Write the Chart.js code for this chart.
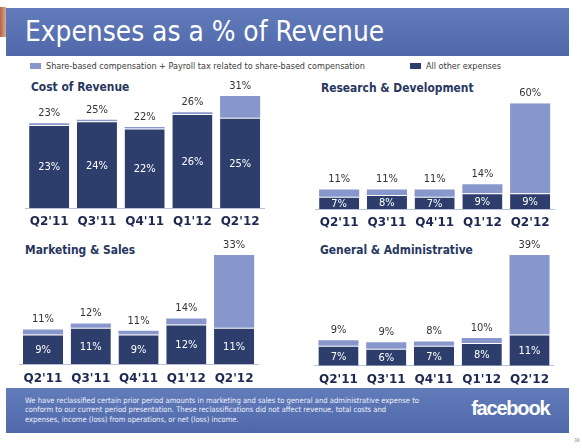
<!DOCTYPE html>
<html>
<head>
<meta charset="utf-8">
<script src="https://cdn.jsdelivr.net/npm/chart.js@4.4.0/dist/chart.umd.min.js"></script>
<style>
  body { margin: 0; background: #fff; font-family: "DejaVu Sans Condensed", "DejaVu Sans", sans-serif; }
  #slide { position: relative; width: 582px; height: 448px; overflow: hidden; background: #fff; }
  .band { position: absolute; background: linear-gradient(180deg, #627bba 0%, #5770b1 60%, #5068aa 100%); }
  #header { left: 6px; top: 8px; width: 563px; height: 48px; }
  #header h1 { margin: 0; position: absolute; left: 19px; top: 7px; color: #fff; font-weight: normal; font-size: 27.8px; white-space: nowrap; }
  #edge { position: absolute; left: 0; top: 7px; width: 6px; height: 30px; background: linear-gradient(90deg, #b0664a, #d9a793); }
  .leg { position: absolute; top: 61px; font-size: 9px; line-height: 10px; color: #3a3a3a; white-space: nowrap; }
  .leg i { display: inline-block; width: 11px; height: 6px; margin-right: 5px; vertical-align: 0px; }
  .ttl { position: absolute; font-weight: bold; font-size: 11.9px; color: #27365e; white-space: nowrap; }
  canvas { position: absolute; }
  #footer { left: 6px; top: 388px; width: 563px; height: 45px; }
  #footer p { margin: 0; position: absolute; left: 19px; top: 8px; color: #eef1f8; font-size: 7.6px; line-height: 9.3px; white-space: nowrap; }
  #logo { position: absolute; right: 18px; top: 9px; color: #fff; font-family: "Liberation Sans", sans-serif; font-weight: bold; font-size: 20px; letter-spacing: -1.2px; }
  #logo span { font-size: 6px; letter-spacing: 0; }
  #pg { position: absolute; left: 574px; top: 437px; font-size: 5px; color: #888; }
</style>
</head>
<body>
<div id="slide">
  <div id="edge"></div>
  <div id="header" class="band"><h1>Expenses as a % of Revenue</h1></div>
  <div class="leg" style="left:30px"><i style="background:#8797cb"></i>Share-based compensation + Payroll tax related to share-based compensation</div>
  <div class="leg" style="left:410px"><i style="background:#2d3d6c"></i>All other expenses</div>

  <div class="ttl" style="left:31px;top:80px">Cost of Revenue</div>
  <div class="ttl" style="left:321px;top:81px">Research &amp; Development</div>
  <div class="ttl" style="left:25px;top:243px">Marketing &amp; Sales</div>
  <div class="ttl" style="left:320px;top:243px">General &amp; Administrative</div>

  <canvas id="c1" style="left:0px;top:76px" width="290" height="156"></canvas>
  <canvas id="c2" style="left:295px;top:76px" width="285" height="156"></canvas>
  <canvas id="c3" style="left:0px;top:235px" width="290" height="153"></canvas>
  <canvas id="c4" style="left:295px;top:235px" width="285" height="153"></canvas>

  <div id="footer" class="band">
    <p>We have reclassified certain prior period amounts in marketing and sales to general and administrative expense to<br>conform to our current period presentation. These reclassifications did not affect revenue, total costs and<br>expenses, income (loss) from operations, or net (loss) income.</p>
    <div id="logo">facebook<span>.</span></div>
  </div>
  <div id="pg">38</div>
</div>

<script>
const quarters = ["Q2'11", "Q3'11", "Q4'11", "Q1'12", "Q2'12"];

// all other expenses (dark) and share-based comp (light), % of revenue
const costOther = [23, 24, 22, 26, 25];
const costSbc = [0.45, 0.45, 0.4, 0.5, 6];
const costTotal = [23, 25, 22, 26, 31];

const rdOther = [7, 8, 7, 9, 9];
const rdSbc = [4, 3, 4, 5, 51];
const rdTotal = [11, 11, 11, 14, 60];

const msOther = [9, 11, 9, 12, 11];
const msSbc = [1.5, 1.3, 1.1, 1.8, 22];
const msTotal = [11, 12, 11, 14, 33];

const gaOther = [7, 6, 7, 8, 11];
const gaSbc = [2, 2.3, 1.5, 1.8, 28];
const gaTotal = [9, 9, 8, 10, 39];

const DARK = "#2d3d6c";
const LIGHT = "#8797cb";
const FONT = "'DejaVu Sans Condensed', 'DejaVu Sans', sans-serif";

const labelPlugin = {
  id: "barLabels",
  afterDatasetsDraw(chart, args, opts) {
    const ctx = chart.ctx;
    const low = chart.getDatasetMeta(0).data;
    const top = chart.getDatasetMeta(1).data;
    ctx.save();
    ctx.font = "11px " + FONT;
    ctx.textAlign = "center";
    ctx.textBaseline = "middle";
    low.forEach((bar, i) => {
      ctx.fillStyle = "#ffffff";
      ctx.fillText(opts.inner[i] + "%", bar.x, (bar.y + bar.base) / 2 + 1);
      ctx.fillStyle = "#333333";
      ctx.fillText(opts.total[i] + "%", top[i].x, top[i].y - 10);
    });
    ctx.restore();
  }
};

function makeChart(id, other, sbc, total, pad) {
  const max = Math.max(...other.map((v, i) => v + sbc[i]));
  new Chart(document.getElementById(id), {
    type: "bar",
    data: {
      labels: quarters,
      datasets: [
        { label: "All other expenses", data: other, backgroundColor: DARK,
          borderColor: "#ffffff", borderWidth: { top: 1, left: 0, right: 0, bottom: 0 }, borderSkipped: false },
        { label: "Share-based compensation", data: sbc, backgroundColor: LIGHT, borderWidth: 0 }
      ]
    },
    options: {
      responsive: false,
      animation: false,
      events: [],
      datasets: { bar: { categoryPercentage: 1, barPercentage: 0.84 } },
      layout: { padding: pad },
      scales: {
        x: {
          stacked: true,
          grid: { display: false, drawTicks: false },
          border: { display: true, color: "#b9c1d8", width: 1 },
          ticks: { color: "#1c2850", padding: 7, font: { family: "DejaVu Sans", size: 12, weight: "bold" } },
          afterFit: s => { s.height = 22; }
        },
        y: { stacked: true, display: false, min: 0, max: max }
      },
      plugins: {
        legend: { display: false },
        tooltip: { enabled: false },
        barLabels: { inner: other, total: total }
      }
    },
    plugins: [labelPlugin]
  });
}

makeChart("c1", costOther, costSbc, costTotal, { left: 25.3, right: 26, top: 20, bottom: 2 });
makeChart("c2", rdOther, rdSbc, rdTotal, { left: 20.3, right: 26, top: 27.3, bottom: 1 });
makeChart("c3", msOther, msSbc, msTotal, { left: 19.1, right: 32, top: 20, bottom: 1.7 });
makeChart("c4", gaOther, gaSbc, gaTotal, { left: 19.6, right: 26.6, top: 20, bottom: 0.3 });
</script>
</body>
</html>
